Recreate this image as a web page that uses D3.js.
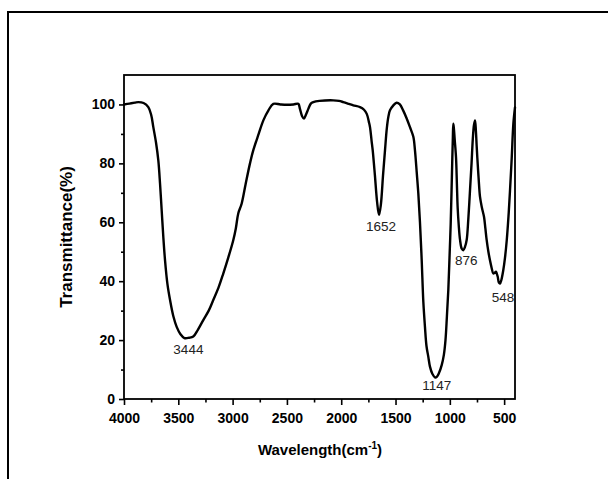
<!DOCTYPE html>
<html>
<head>
<meta charset="utf-8">
<script src="https://cdn.jsdelivr.net/npm/d3@7"></script>
<style>
  html, body { margin: 0; padding: 0; background: #fff; }
  svg { display: block; }
  text { font-family: "Liberation Sans", Arial, sans-serif; }
</style>
</head>
<body>
<svg id="chart" width="608" height="479"></svg>
<script>
// ---- data ----
const wavenumber = [
  4000, 3950, 3900, 3868, 3820, 3776, 3750, 3730, 3705, 3684, 3668, 3653, 3638, 3622, 3600,
  3576, 3545, 3515, 3480, 3444, 3400, 3362, 3320, 3270, 3220, 3178, 3130, 3086, 3040, 2994,
  2970, 2948, 2917, 2880, 2840, 2810, 2760, 2717, 2670, 2625, 2560, 2502, 2440, 2395, 2380,
  2360, 2343, 2325, 2303, 2280, 2257, 2200, 2073, 2020, 1981, 1930, 1889, 1827, 1790, 1765,
  1745, 1735, 1720, 1710, 1690, 1670, 1652, 1635, 1615, 1597, 1580, 1565, 1551, 1520, 1490,
  1460, 1430, 1400, 1367, 1336, 1321, 1305, 1290, 1275, 1259, 1244, 1229, 1215, 1198, 1183,
  1160, 1135, 1120, 1100, 1075, 1055, 1040, 1027, 1014, 1003, 992, 984, 977, 972, 968,
  963, 955, 943, 935, 928, 918, 906, 890, 876, 862, 845, 830, 814, 800, 789,
  778, 768, 760, 753, 747, 735, 722, 705, 685, 673, 661, 645, 630, 615, 600,
  588, 575, 567, 559, 548, 538, 525, 508, 492, 476, 460, 446, 430, 415, 400
];
const transmittance = [
  100, 100.3, 100.6, 100.8, 100.5, 99.1, 96.5, 92.3, 87, 81, 73, 64, 55, 47, 39,
  33.6, 28, 24.5, 22, 20.7, 20.8, 21.2, 23.5, 26.8, 30, 33.6, 37.8, 42.6, 48, 53.9,
  58, 63, 66.3, 73, 80, 84.4, 90, 94.6, 98, 100.2, 100, 99.9, 100, 100.2, 98.5,
  96, 95.2, 96.5, 98.5, 100.3, 100.8, 101.2, 101.4, 101.2, 100.8, 100.2, 99.7, 99.1, 98.2, 96.8,
  94, 92.3, 87.5, 84.4, 76, 67, 62.5, 66, 76, 84.4, 92, 96, 98, 99.7, 100.6,
  100, 98, 95.5, 92.3, 89, 84.4, 77, 69.7, 60, 47.1, 33, 24.5, 18, 14.3, 11,
  8.5, 7.3, 7.5, 8.8, 11.5, 15, 20, 28, 37, 48, 59.6, 71, 82, 89, 93.5,
  92, 88, 82, 73, 65, 59, 54, 51, 50.5, 51.5, 54, 61, 71, 80, 88,
  93, 94.6, 91, 86, 82, 75, 68.6, 65, 61.8, 58, 54, 50, 47, 44.5, 42.6,
  42.8, 43.2, 42.5, 41.5, 39.5, 39.2, 40.5, 43.7, 48, 53.9, 62, 70.8, 82, 93.5, 99
];
const peakLabels = ["3444", "1652", "1147", "876", "548"];
const peakX = [3444, 1652, 1147, 876, 548];
const peakY = [20.7, 62.5, 7.3, 50.5, 39.2];
const xTicks = [4000, 3500, 3000, 2500, 2000, 1500, 1000, 500];
const xMinorTicks = [3750, 3250, 2750, 2250, 1750, 1250, 750];
const yTicks = [0, 20, 40, 60, 80, 100];
const yMinorTicks = [10, 30, 50, 70, 90];
const xTitle = "Wavelength(cm";
const xTitleSup = "-1";
const yTitle = "Transmittance(%)";

// ---- drawing ----
const svg = d3.select("#chart");
const L = 124, R = 515, T = 75, B = 399;
const x = d3.scaleLinear().domain([4000, 400]).range([L, R]);
const y = d3.scaleLinear().domain([0, 110]).range([B, T]);

// outer frame (left + top only)
svg.append("path")
  .attr("d", `M8,479 L8,12 L608,12`)
  .attr("fill", "none").attr("stroke", "#000").attr("stroke-width", 2);

// axes
const gx = svg.append("g").attr("transform", `translate(0,${B})`)
  .call(d3.axisBottom(x).tickValues(xTicks).tickSize(6).tickPadding(8).tickFormat(d3.format("d")));
const gxm = svg.append("g").attr("transform", `translate(0,${B})`)
  .call(d3.axisBottom(x).tickValues(xMinorTicks).tickSize(3.5).tickFormat(""));
const gy = svg.append("g").attr("transform", `translate(${L},0)`)
  .call(d3.axisLeft(y).tickValues(yTicks).tickSize(5).tickPadding(4).tickFormat(d3.format("d")));
const gym = svg.append("g").attr("transform", `translate(${L},0)`)
  .call(d3.axisLeft(y).tickValues(yMinorTicks).tickSize(3).tickFormat(""));

[gx, gxm, gy, gym].forEach(g => {
  g.select(".domain").remove();
  g.selectAll(".tick line").attr("stroke", "#000").attr("stroke-width", 1.6);
  g.selectAll(".tick text")
    .attr("fill", "#000")
    .style("font-family", '"Liberation Sans", Arial, sans-serif')
    .style("font-size", "14px")
    .style("font-weight", "bold");
});

// plot frame
svg.append("rect")
  .attr("x", L).attr("y", T).attr("width", R - L).attr("height", B - T)
  .attr("fill", "none").attr("stroke", "#000").attr("stroke-width", 1.8);

// spectrum
const pts = wavenumber.map((w, i) => [w, transmittance[i]]);
const line = d3.line().x(d => x(d[0])).y(d => y(d[1])).curve(d3.curveCatmullRom.alpha(0.5));
svg.append("path")
  .datum(pts)
  .attr("d", line)
  .attr("fill", "none")
  .attr("stroke", "#000")
  .attr("stroke-width", 2.4)
  .attr("stroke-linejoin", "round")
  .attr("stroke-linecap", "round");

// peak labels
const labelDx = [4, 2, 3, 3, 4];
const labelDy = [16, 16, 13, 15, 18];
svg.selectAll("text.peak")
  .data(peakLabels)
  .enter().append("text")
  .attr("class", "peak")
  .attr("x", (d, i) => x(peakX[i]) + labelDx[i])
  .attr("y", (d, i) => y(peakY[i]) + labelDy[i])
  .attr("text-anchor", "middle")
  .attr("fill", "#222")
  .style("font-size", "13.5px")
  .text(d => d);

// x title
const xt = svg.append("text")
  .attr("x", 320).attr("y", 455)
  .attr("text-anchor", "middle")
  .style("font-size", "15px").style("font-weight", "bold")
  .attr("fill", "#000");
xt.append("tspan").text(xTitle);
xt.append("tspan").attr("dy", -6).style("font-size", "10px").text(xTitleSup);
xt.append("tspan").attr("dy", 6).text(")");

// y title
svg.append("text")
  .attr("transform", "translate(72,237) rotate(-90)")
  .attr("text-anchor", "middle")
  .style("font-size", "17px").style("font-weight", "bold")
  .attr("fill", "#000")
  .text(yTitle);
</script>
</body>
</html>
